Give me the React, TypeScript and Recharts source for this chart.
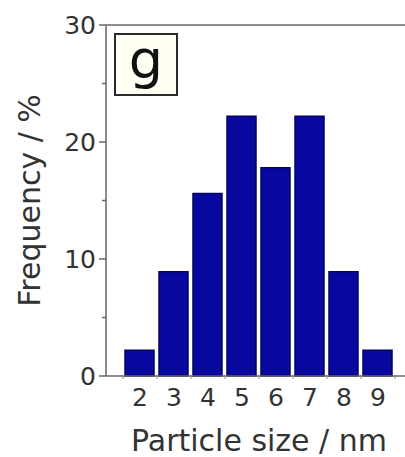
import React from "react"
import { BarChart, Bar, XAxis, YAxis, ReferenceLine } from "recharts"

// particle size histogram, n = 45
const sizes = [2, 3, 4, 5, 6, 7, 8, 9]
const frequency = [2.2, 8.9, 15.6, 22.2, 17.8, 22.2, 8.9, 2.2]
const sizeTicks = [1.5, 2, 2.5, 3, 3.5, 4, 4.5, 5, 5.5, 6, 6.5, 7, 7.5, 8, 8.5, 9, 9.5]
const freqTicks = [0, 5, 10, 15, 20, 25, 30]

const data = sizes.map((size, i) => ({ size, freq: frequency[i] }))

const FONT = "'DejaVu Sans', sans-serif"
const AXIS = "#666"
const TEXT = "#333"

// integer sizes get a label, bin edges only a short mark
const XTick = ({ x, y, payload }: any) => {
  const v = payload.value
  if (Number.isInteger(v)) {
    return (
      <text x={x} y={y + 30} textAnchor="middle" fontFamily={FONT} fontSize={25} fill={TEXT}>
        {v}
      </text>
    )
  }
  return <line x1={x} x2={x} y1={y} y2={y + 3} stroke="#888" strokeWidth={1} />
}

const YTick = ({ x, y, payload }: any) => {
  const major = payload.value % 10 === 0
  return (
    <g>
      <line x1={x} x2={x - (major ? 7 : 4)} y1={y} y2={y} stroke={AXIS} strokeWidth={1.5} />
      {major && (
        <text x={x - 10} y={y} dy="0.36em" textAnchor="end" fontFamily={FONT} fontSize={25} fill={TEXT}>
          {payload.value}
        </text>
      )}
    </g>
  )
}

export default function App() {
  return (
    <div style={{ position: "absolute", left: 0, top: 0, width: 405, height: 457, overflow: "hidden", background: "#fff" }}>
      <BarChart width={432} height={457} data={data} margin={{ top: 25, right: 20, left: 0, bottom: 0 }}>
        <XAxis
          dataKey="size"
          type="number"
          domain={[1, 10]}
          ticks={sizeTicks}
          interval={0}
          tick={<XTick />}
          tickLine={false}
          tickSize={0}
          tickMargin={0}
          height={81}
          axisLine={{ stroke: AXIS, strokeWidth: 1.5 }}
          label={{
            value: "Particle size / nm",
            position: "insideBottom",
            offset: 6,
            style: { fontFamily: FONT, fontSize: 30, fill: TEXT },
          }}
        />
        <YAxis
          type="number"
          domain={[0, 30]}
          ticks={freqTicks}
          interval={0}
          tick={<YTick />}
          tickLine={false}
          tickSize={0}
          tickMargin={0}
          width={106}
          axisLine={{ stroke: AXIS, strokeWidth: 1.5 }}
          label={{
            value: "Frequency / %",
            angle: -90,
            position: "insideLeft",
            offset: 29,
            style: { fontFamily: FONT, fontSize: 30, fill: TEXT, textAnchor: "middle" },
          }}
        />
        <ReferenceLine y={30} stroke={AXIS} strokeWidth={1.5} ifOverflow="visible" />
        <Bar dataKey="freq" barSize={29} fill="#0808a0" stroke="#030360" strokeWidth={1.5} isAnimationActive={false} />
      </BarChart>
      <div
        style={{
          position: "absolute",
          left: 114,
          top: 33,
          width: 60,
          height: 59,
          border: "2px solid #2a2a2a",
          background: "#fffff4",
          fontFamily: FONT,
          fontSize: 54,
          lineHeight: "50px",
          textAlign: "center",
          color: "#111",
        }}
      >
        g
      </div>
    </div>
  )
}
